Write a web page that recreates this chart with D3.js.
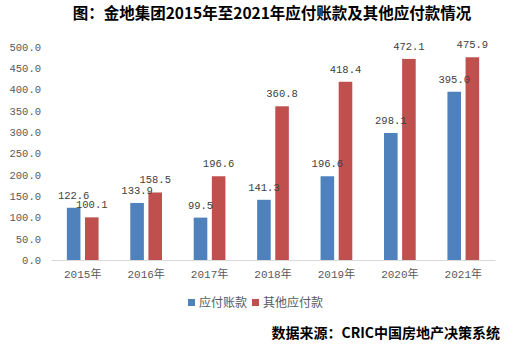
<!DOCTYPE html>
<html>
<head>
<meta charset="utf-8">
<script src="https://cdn.jsdelivr.net/npm/d3@7"></script>
<style>
  body { margin: 0; background: #fff; }
  svg { display: block; }
</style>
</head>
<body>
<div id="chart"></div>
<script>
// Dades
const years = ["2015年", "2016年", "2017年", "2018年", "2019年", "2020年", "2021年"];
const seriesNames = ["应付账款", "其他应付款"];
const payables = [122.6, 133.9, 99.5, 141.3, 196.6, 298.1, 395.0];
const otherPayables = [100.1, 158.5, 196.6, 360.8, 418.4, 472.1, 475.9];
const yTicks = [0, 50, 100, 150, 200, 250, 300, 350, 400, 450, 500];
const colors = ["#4F81BD", "#C0504D"];

const rows = years.map((y, i) => ({ year: y, values: [payables[i], otherPayables[i]] }));

// Dimensions
const width = 521;
const height = 351;
const plot = { left: 51, right: 495, top: 47, bottom: 260 };

const svg = d3.select("#chart")
    .append("svg")
    .attr("width", width)
    .attr("height", height);

// Escales
const x0 = d3.scaleBand()
    .domain(years)
    .range([plot.left, plot.right])
    .paddingInner(0.5)
    .paddingOuter(0.25);

const x1 = d3.scaleBand()
    .domain(seriesNames)
    .range([0, x0.bandwidth()])
    .paddingInner(0.25);

const y = d3.scaleLinear()
    .domain([0, 500])
    .range([plot.bottom, plot.top]);

const monoFont = "'Liberation Mono', 'DejaVu Sans Mono', monospace";
const cjkFont = "'Liberation Mono', 'Noto Sans CJK SC', sans-serif";

// Títol
svg.append("text")
    .attr("x", 272)
    .attr("y", 19)
    .attr("text-anchor", "middle")
    .style("font-family", "'Noto Sans CJK SC', sans-serif")
    .style("font-weight", "bold")
    .style("font-size", "15.5px")
    .style("fill", "#000")
    .text("图：金地集团2015年至2021年应付账款及其他应付款情况");

// eix Y
const yAxis = svg.append("g")
    .attr("transform", `translate(${plot.left},0)`)
    .call(d3.axisLeft(y).tickValues(yTicks).tickFormat(d3.format(".1f")).tickSize(0).tickPadding(10));
yAxis.select(".domain").remove();
yAxis.selectAll("text")
    .style("font-family", monoFont)
    .style("font-size", "10.5px")
    .style("fill", "#595959");

// barres
const groups = svg.selectAll("g.year")
    .data(rows)
    .enter()
    .append("g")
    .attr("class", "year")
    .attr("transform", d => `translate(${x0(d.year)},0)`);

groups.selectAll("rect")
    .data(d => d.values.map((v, i) => ({ key: seriesNames[i], value: v, i: i })))
    .enter()
    .append("rect")
    .attr("x", d => x1(d.key))
    .attr("y", d => y(d.value))
    .attr("width", x1.bandwidth())
    .attr("height", d => y(0) - y(d.value))
    .attr("fill", d => colors[d.i]);

// Labels
groups.selectAll("text.value")
    .data(d => d.values.map((v, i) => ({ key: seriesNames[i], value: v })))
    .enter()
    .append("text")
    .attr("class", "value")
    .attr("x", d => x1(d.key) + x1.bandwidth() / 2)
    .attr("y", d => y(d.value) - 9)
    .attr("text-anchor", "middle")
    .style("font-family", monoFont)
    .style("font-size", "10.5px")
    .style("fill", "#404040")
    .text(d => d3.format(".1f")(d.value));

// eix X
const xAxis = svg.append("g")
    .attr("transform", `translate(0,${plot.bottom})`)
    .call(d3.axisBottom(x0).tickSize(0).tickPadding(10).tickSizeOuter(0));
xAxis.select(".domain").attr("stroke", "#D9D9D9");
xAxis.selectAll("text")
    .style("font-family", cjkFont)
    .style("font-size", "11px")
    .style("fill", "#595959");

// Llegenda
const legendX = [188, 252];
seriesNames.forEach((name, i) => {
    svg.append("rect")
        .attr("x", legendX[i])
        .attr("y", 299)
        .attr("width", 7)
        .attr("height", 7)
        .attr("fill", colors[i]);
    svg.append("text")
        .attr("x", legendX[i] + 11)
        .attr("y", 307)
        .style("font-family", "'Noto Sans CJK SC', sans-serif")
        .style("font-size", "12px")
        .style("fill", "#595959")
        .text(name);
});

// Font
svg.append("text")
    .attr("x", 500)
    .attr("y", 338)
    .attr("text-anchor", "end")
    .style("font-family", "'Noto Sans CJK SC', sans-serif")
    .style("font-weight", "bold")
    .style("font-size", "14px")
    .style("fill", "#000")
    .text("数据来源：CRIC中国房地产决策系统");
</script>
</body>
</html>
